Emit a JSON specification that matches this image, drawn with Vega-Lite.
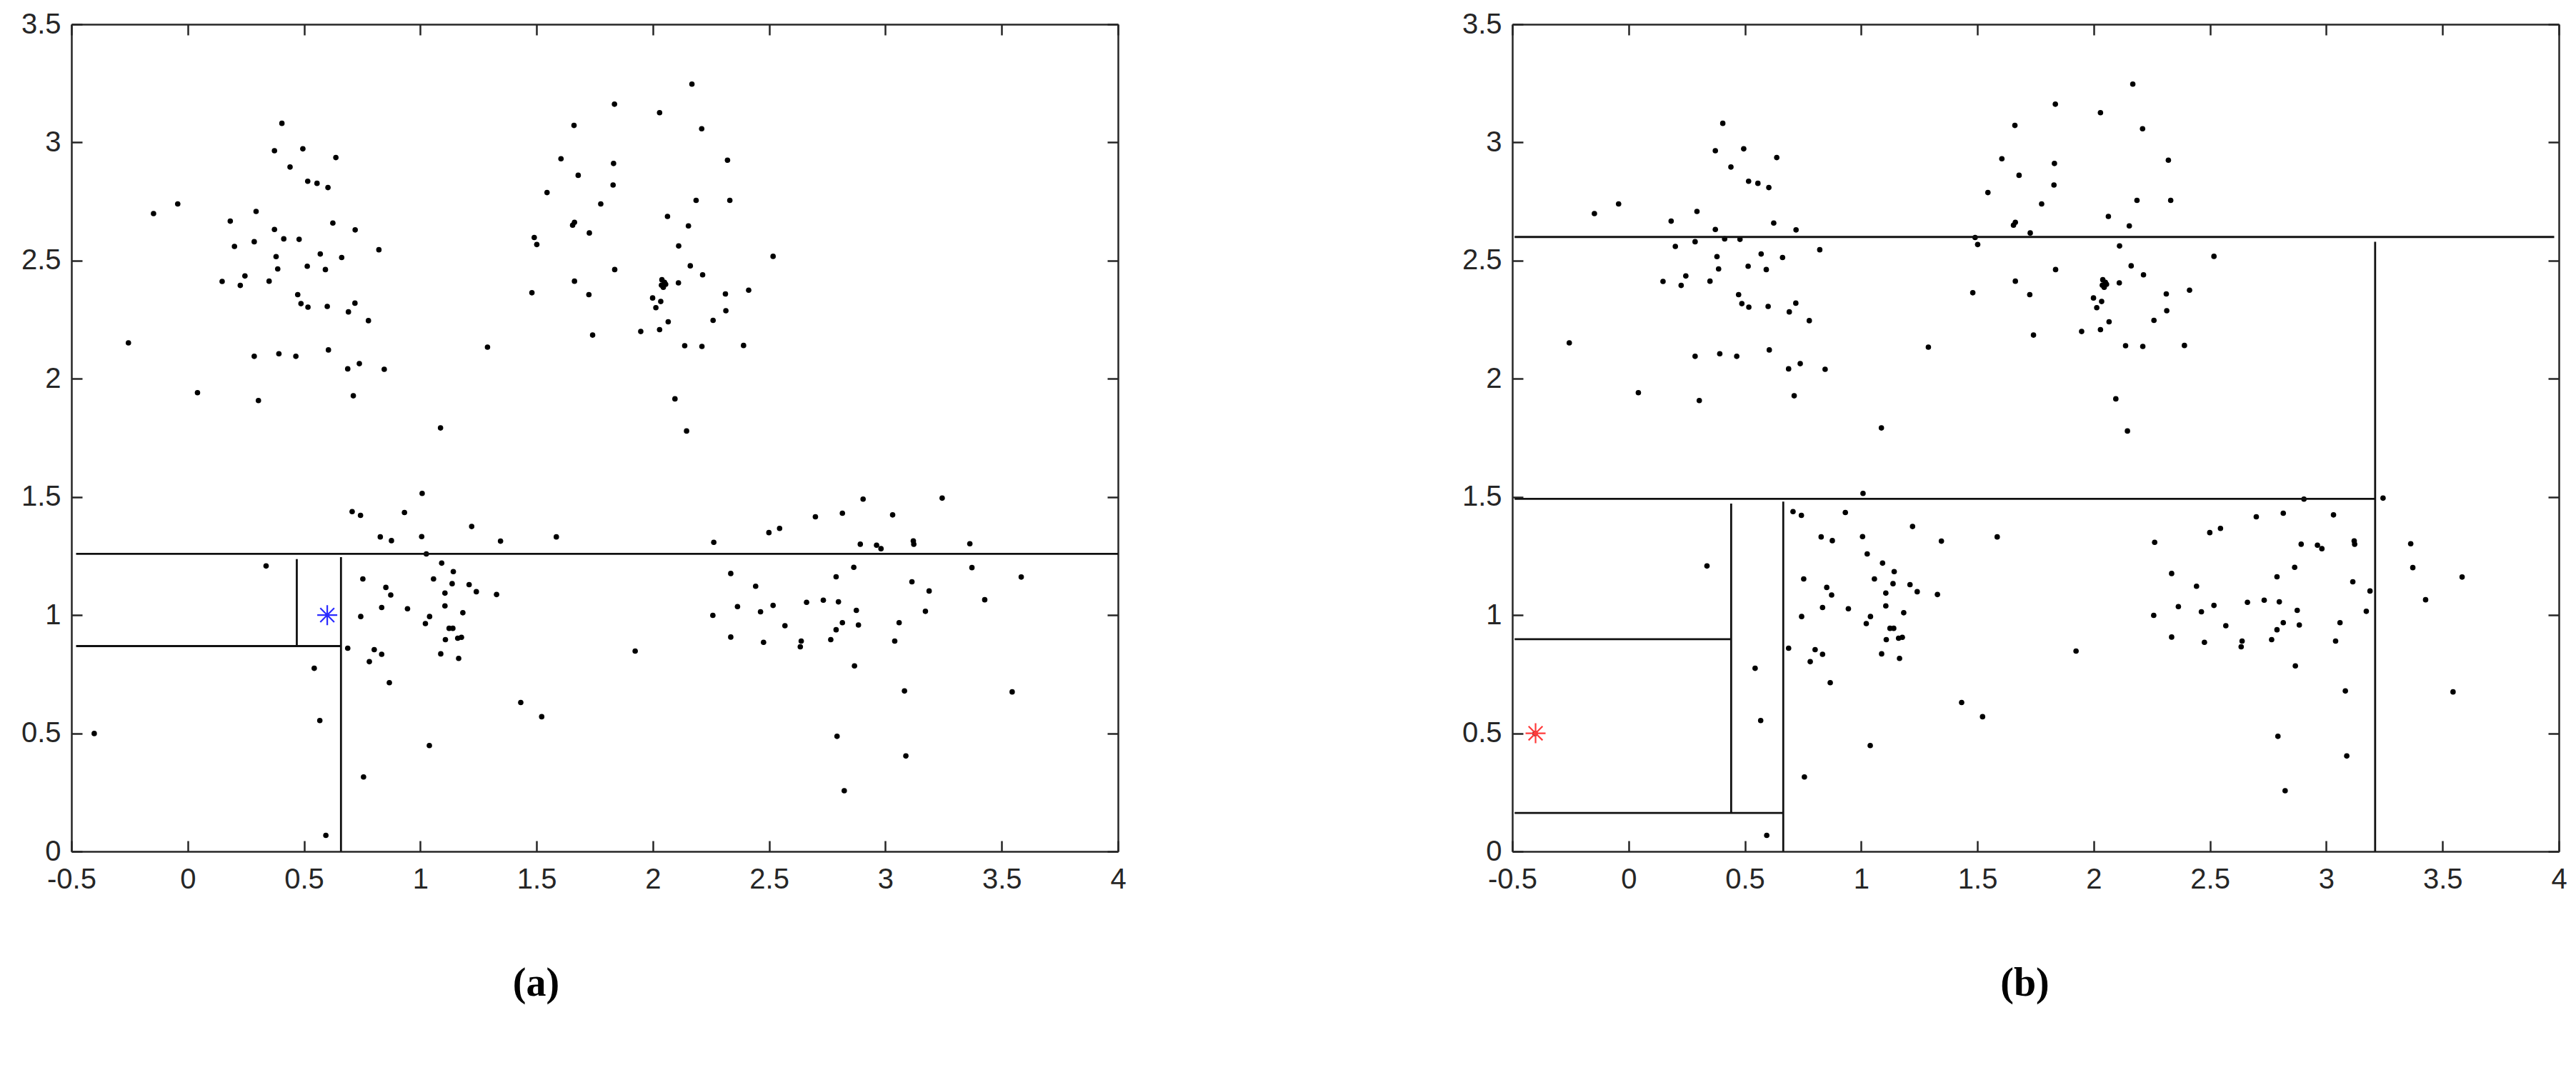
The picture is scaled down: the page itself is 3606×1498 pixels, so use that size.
{
  "$schema": "https://vega.github.io/schema/vega-lite/v6.json",
  "background": "white",
  "padding": {"left": 18, "top": 14, "right": 10, "bottom": 10},
  "bounds": "flush",
  "spacing": 552,
  "config": {
    "view": {"stroke": null},
    "axis": {
      "grid": false,
      "domainColor": "#262626",
      "domainWidth": 2.5,
      "tickColor": "#262626",
      "tickWidth": 2.5,
      "tickSize": -15,
      "labelFont": "Liberation Sans",
      "labelFontSize": 40,
      "labelColor": "#262626",
      "labelFlush": false,
      "labelOverlap": false,
      "labelExpr": "datum.value + ''"
    }
  },
  "datasets": {
    "pts": [
      {"x":0.405,"y":3.081},{"x":0.373,"y":2.965},{"x":0.495,"y":2.973},{"x":0.637,"y":2.936},{"x":0.44,"y":2.896},
      {"x":0.516,"y":2.836},{"x":0.556,"y":2.827},{"x":0.603,"y":2.809},{"x":-0.043,"y":2.74},{"x":-0.147,"y":2.699},
      {"x":0.294,"y":2.708},{"x":0.183,"y":2.667},{"x":0.624,"y":2.659},{"x":0.373,"y":2.632},{"x":0.72,"y":2.63},
      {"x":0.413,"y":2.592},{"x":0.479,"y":2.59},{"x":0.286,"y":2.58},{"x":0.201,"y":2.56},{"x":0.822,"y":2.546},
      {"x":0.57,"y":2.528},{"x":0.38,"y":2.517},{"x":0.662,"y":2.513},{"x":0.514,"y":2.476},{"x":0.387,"y":2.465},
      {"x":0.592,"y":2.462},{"x":0.246,"y":2.435},{"x":0.148,"y":2.412},{"x":0.35,"y":2.413},{"x":0.226,"y":2.395},
      {"x":0.473,"y":2.356},{"x":0.487,"y":2.318},{"x":0.517,"y":2.303},{"x":0.6,"y":2.306},{"x":0.719,"y":2.32},
      {"x":0.691,"y":2.283},{"x":0.777,"y":2.246},{"x":-0.255,"y":2.152},{"x":0.286,"y":2.095},{"x":0.392,"y":2.106},
      {"x":0.465,"y":2.095},{"x":0.605,"y":2.122},{"x":0.688,"y":2.042},{"x":0.738,"y":2.064},{"x":0.845,"y":2.04},
      {"x":0.042,"y":1.941},{"x":0.712,"y":1.928},{"x":0.304,"y":1.908},
      {"x":2.168,"y":3.247},{"x":1.835,"y":3.162},{"x":2.029,"y":3.126},{"x":1.661,"y":3.072},{"x":2.21,"y":3.058},
      {"x":1.605,"y":2.931},{"x":1.831,"y":2.911},{"x":2.321,"y":2.925},{"x":1.679,"y":2.861},{"x":1.829,"y":2.82},
      {"x":1.545,"y":2.788},{"x":1.776,"y":2.74},{"x":2.186,"y":2.755},{"x":2.331,"y":2.755},{"x":2.063,"y":2.687},
      {"x":1.663,"y":2.662},{"x":1.655,"y":2.65},{"x":2.153,"y":2.647},{"x":1.727,"y":2.617},{"x":1.49,"y":2.598},
      {"x":1.501,"y":2.568},{"x":2.111,"y":2.562},{"x":2.517,"y":2.518},{"x":2.161,"y":2.478},{"x":1.836,"y":2.462},
      {"x":2.214,"y":2.44},{"x":1.663,"y":2.413},{"x":2.039,"y":2.419},{"x":2.05,"y":2.408},{"x":2.037,"y":2.396},
      {"x":2.045,"y":2.387},{"x":2.055,"y":2.4},{"x":2.11,"y":2.406},{"x":1.48,"y":2.364},{"x":1.725,"y":2.356},
      {"x":2.312,"y":2.359},{"x":2.412,"y":2.375},{"x":1.999,"y":2.342},{"x":2.034,"y":2.327},{"x":2.013,"y":2.301},
      {"x":2.314,"y":2.288},{"x":2.259,"y":2.247},{"x":2.066,"y":2.241},{"x":1.948,"y":2.2},{"x":2.029,"y":2.208},
      {"x":1.741,"y":2.185},{"x":1.289,"y":2.134},{"x":2.137,"y":2.14},{"x":2.211,"y":2.137},{"x":2.39,"y":2.141},
      {"x":2.095,"y":1.915},{"x":1.087,"y":1.792},{"x":2.145,"y":1.779},
      {"x":0.337,"y":1.208},{"x":0.707,"y":1.438},{"x":0.743,"y":1.422},{"x":0.932,"y":1.434},{"x":1.008,"y":1.515},
      {"x":0.828,"y":1.331},{"x":0.876,"y":1.315},{"x":1.006,"y":1.332},{"x":1.026,"y":1.259},{"x":0.753,"y":1.153},
      {"x":0.852,"y":1.117},{"x":0.873,"y":1.085},{"x":0.834,"y":1.032},{"x":0.945,"y":1.027},{"x":0.744,"y":0.994},
      {"x":1.022,"y":0.964},{"x":0.688,"y":0.86},{"x":0.802,"y":0.854},{"x":0.834,"y":0.834},{"x":0.781,"y":0.803},
      {"x":0.544,"y":0.775},{"x":0.867,"y":0.714},{"x":0.568,"y":0.554},{"x":-0.402,"y":0.499},{"x":1.039,"y":0.448},
      {"x":0.756,"y":0.315},{"x":0.594,"y":0.068},
      {"x":1.221,"y":1.375},{"x":1.345,"y":1.313},{"x":1.585,"y":1.331},{"x":2.262,"y":1.308},{"x":2.499,"y":1.349},
      {"x":2.545,"y":1.367},{"x":1.092,"y":1.22},{"x":1.142,"y":1.184},{"x":1.057,"y":1.153},{"x":1.137,"y":1.133},
      {"x":1.21,"y":1.129},{"x":1.241,"y":1.099},{"x":1.106,"y":1.093},{"x":1.328,"y":1.087},{"x":1.106,"y":1.039},
      {"x":1.183,"y":1.01},{"x":1.04,"y":0.994},{"x":1.124,"y":0.944},{"x":1.14,"y":0.944},{"x":1.108,"y":0.896},
      {"x":1.161,"y":0.902},{"x":1.177,"y":0.906},{"x":1.088,"y":0.836},{"x":1.165,"y":0.817},{"x":1.924,"y":0.848},
      {"x":2.335,"y":1.176},{"x":2.442,"y":1.122},{"x":2.517,"y":1.041},{"x":2.364,"y":1.036},{"x":2.258,"y":0.999},
      {"x":2.463,"y":1.014},{"x":2.568,"y":0.955},{"x":2.335,"y":0.907},{"x":2.476,"y":0.885},{"x":1.432,"y":0.63},
      {"x":1.522,"y":0.57},
      {"x":2.699,"y":1.416},{"x":2.815,"y":1.431},{"x":2.904,"y":1.491},{"x":3.031,"y":1.424},{"x":3.244,"y":1.495},
      {"x":2.892,"y":1.3},{"x":2.962,"y":1.296},{"x":2.981,"y":1.281},{"x":3.12,"y":1.314},{"x":3.122,"y":1.3},
      {"x":3.363,"y":1.302},{"x":2.864,"y":1.202},{"x":3.372,"y":1.201},{"x":3.584,"y":1.161},{"x":2.788,"y":1.162},
      {"x":3.114,"y":1.141},{"x":3.188,"y":1.102},{"x":3.427,"y":1.065},{"x":2.661,"y":1.054},{"x":2.733,"y":1.063},
      {"x":2.798,"y":1.056},{"x":2.875,"y":1.02},{"x":3.172,"y":1.016},{"x":2.815,"y":0.968},{"x":2.884,"y":0.958},
      {"x":2.788,"y":0.938},{"x":3.059,"y":0.968},{"x":2.638,"y":0.89},{"x":2.634,"y":0.866},{"x":2.765,"y":0.896},
      {"x":3.04,"y":0.89},{"x":2.867,"y":0.785},{"x":3.082,"y":0.679},{"x":3.545,"y":0.675},{"x":2.792,"y":0.487},
      {"x":3.088,"y":0.404},{"x":2.823,"y":0.257}
    ],
    "linesA": [
      {"x":-0.48,"y":1.259,"x2":4.0,"y2":1.259},
      {"x":-0.48,"y":0.869,"x2":0.659,"y2":0.869},
      {"x":0.659,"y":1.245,"x2":0.659,"y2":0},
      {"x":0.469,"y":1.237,"x2":0.469,"y2":0.869}
    ],
    "linesB": [
      {"x":-0.49,"y":2.6,"x2":3.98,"y2":2.6},
      {"x":3.21,"y":2.58,"x2":3.21,"y2":0},
      {"x":-0.49,"y":1.492,"x2":3.21,"y2":1.492},
      {"x":0.665,"y":1.48,"x2":0.665,"y2":0},
      {"x":0.441,"y":1.472,"x2":0.441,"y2":0.16},
      {"x":-0.49,"y":0.898,"x2":0.441,"y2":0.898},
      {"x":-0.49,"y":0.163,"x2":0.665,"y2":0.163}
    ],
    "starA": [{"x":0.6,"y":1.0}],
    "starB": [{"x":-0.4,"y":0.5}]
  },
  "hconcat": [
    {
      "width": 1465,
      "height": 1158,
      "resolve": {"axis": {"x": "independent", "y": "independent"}},
      "layer": [
        {
          "data": {"name": "pts"},
          "mark": {"type": "circle", "color": "black", "size": 58, "opacity": 1},
          "encoding": {
            "x": {"field": "x", "type": "quantitative", "scale": {"domain": [-0.5, 4], "nice": false, "zero": false},
              "axis": {"orient": "bottom", "values": [-0.5,0,0.5,1,1.5,2,2.5,3,3.5,4], "labelPadding": 34,
                "title": "(a)", "titleFont": "Liberation Serif", "titleFontSize": 56, "titleFontWeight": "bold", "titleColor": "black",
                "titleX": 650, "titleY": 184, "titleAlign": "center", "titleBaseline": "middle"}},
            "y": {"field": "y", "type": "quantitative", "scale": {"domain": [0, 3.5], "nice": false, "zero": false},
              "axis": {"orient": "left", "values": [0,0.5,1,1.5,2,2.5,3,3.5], "labelPadding": 30, "title": null, "minExtent": 82}}
          }
        },
        {
          "data": {"name": "linesA"},
          "mark": {"type": "rule", "color": "#111111", "strokeWidth": 2.8},
          "encoding": {
            "x": {"field": "x", "type": "quantitative", "scale": {"domain": [-0.5, 4], "nice": false, "zero": false},
              "axis": {"orient": "top", "values": [-0.5,0,0.5,1,1.5,2,2.5,3,3.5,4], "labels": false, "title": null, "minExtent": 0, "maxExtent": 0}},
            "y": {"field": "y", "type": "quantitative", "scale": {"domain": [0, 3.5], "nice": false, "zero": false},
              "axis": {"orient": "right", "values": [0,0.5,1,1.5,2,2.5,3,3.5], "labels": false, "title": null, "minExtent": 0, "maxExtent": 0}},
            "x2": {"field": "x2"},
            "y2": {"field": "y2"}
          }
        },
        {
          "data": {"name": "starA"},
          "mark": {"type": "point", "shape": "M-1,0L1,0M0,-1L0,1M-0.7,-0.7L0.7,0.7M-0.7,0.7L0.7,-0.7", "size": 784, "filled": false, "color": "#2b2bff", "strokeWidth": 2.2, "opacity": 1},
          "encoding": {
            "x": {"field": "x", "type": "quantitative", "scale": {"domain": [-0.5, 4], "nice": false, "zero": false}, "axis": null},
            "y": {"field": "y", "type": "quantitative", "scale": {"domain": [0, 3.5], "nice": false, "zero": false}, "axis": null}
          }
        }
      ]
    },
    {
      "width": 1465,
      "height": 1158,
      "resolve": {"axis": {"x": "independent", "y": "independent"}},
      "layer": [
        {
          "data": {"name": "pts"},
          "mark": {"type": "circle", "color": "black", "size": 58, "opacity": 1},
          "encoding": {
            "x": {"field": "x", "type": "quantitative", "scale": {"domain": [-0.5, 4], "nice": false, "zero": false},
              "axis": {"orient": "bottom", "values": [-0.5,0,0.5,1,1.5,2,2.5,3,3.5,4], "labelPadding": 34,
                "title": "(b)", "titleFont": "Liberation Serif", "titleFontSize": 56, "titleFontWeight": "bold", "titleColor": "black",
                "titleX": 717, "titleY": 184, "titleAlign": "center", "titleBaseline": "middle"}},
            "y": {"field": "y", "type": "quantitative", "scale": {"domain": [0, 3.5], "nice": false, "zero": false},
              "axis": {"orient": "left", "values": [0,0.5,1,1.5,2,2.5,3,3.5], "labelPadding": 30, "title": null, "minExtent": 82}}
          }
        },
        {
          "data": {"name": "linesB"},
          "mark": {"type": "rule", "color": "#111111", "strokeWidth": 2.8},
          "encoding": {
            "x": {"field": "x", "type": "quantitative", "scale": {"domain": [-0.5, 4], "nice": false, "zero": false},
              "axis": {"orient": "top", "values": [-0.5,0,0.5,1,1.5,2,2.5,3,3.5,4], "labels": false, "title": null, "minExtent": 0, "maxExtent": 0}},
            "y": {"field": "y", "type": "quantitative", "scale": {"domain": [0, 3.5], "nice": false, "zero": false},
              "axis": {"orient": "right", "values": [0,0.5,1,1.5,2,2.5,3,3.5], "labels": false, "title": null, "minExtent": 0, "maxExtent": 0}},
            "x2": {"field": "x2"},
            "y2": {"field": "y2"}
          }
        },
        {
          "data": {"name": "starB"},
          "mark": {"type": "point", "shape": "M-1,0L1,0M0,-1L0,1M-0.7,-0.7L0.7,0.7M-0.7,0.7L0.7,-0.7", "size": 784, "filled": false, "color": "#ff3b3b", "strokeWidth": 2.2, "opacity": 1},
          "encoding": {
            "x": {"field": "x", "type": "quantitative", "scale": {"domain": [-0.5, 4], "nice": false, "zero": false}, "axis": null},
            "y": {"field": "y", "type": "quantitative", "scale": {"domain": [0, 3.5], "nice": false, "zero": false}, "axis": null}
          }
        }
      ]
    }
  ]
}
